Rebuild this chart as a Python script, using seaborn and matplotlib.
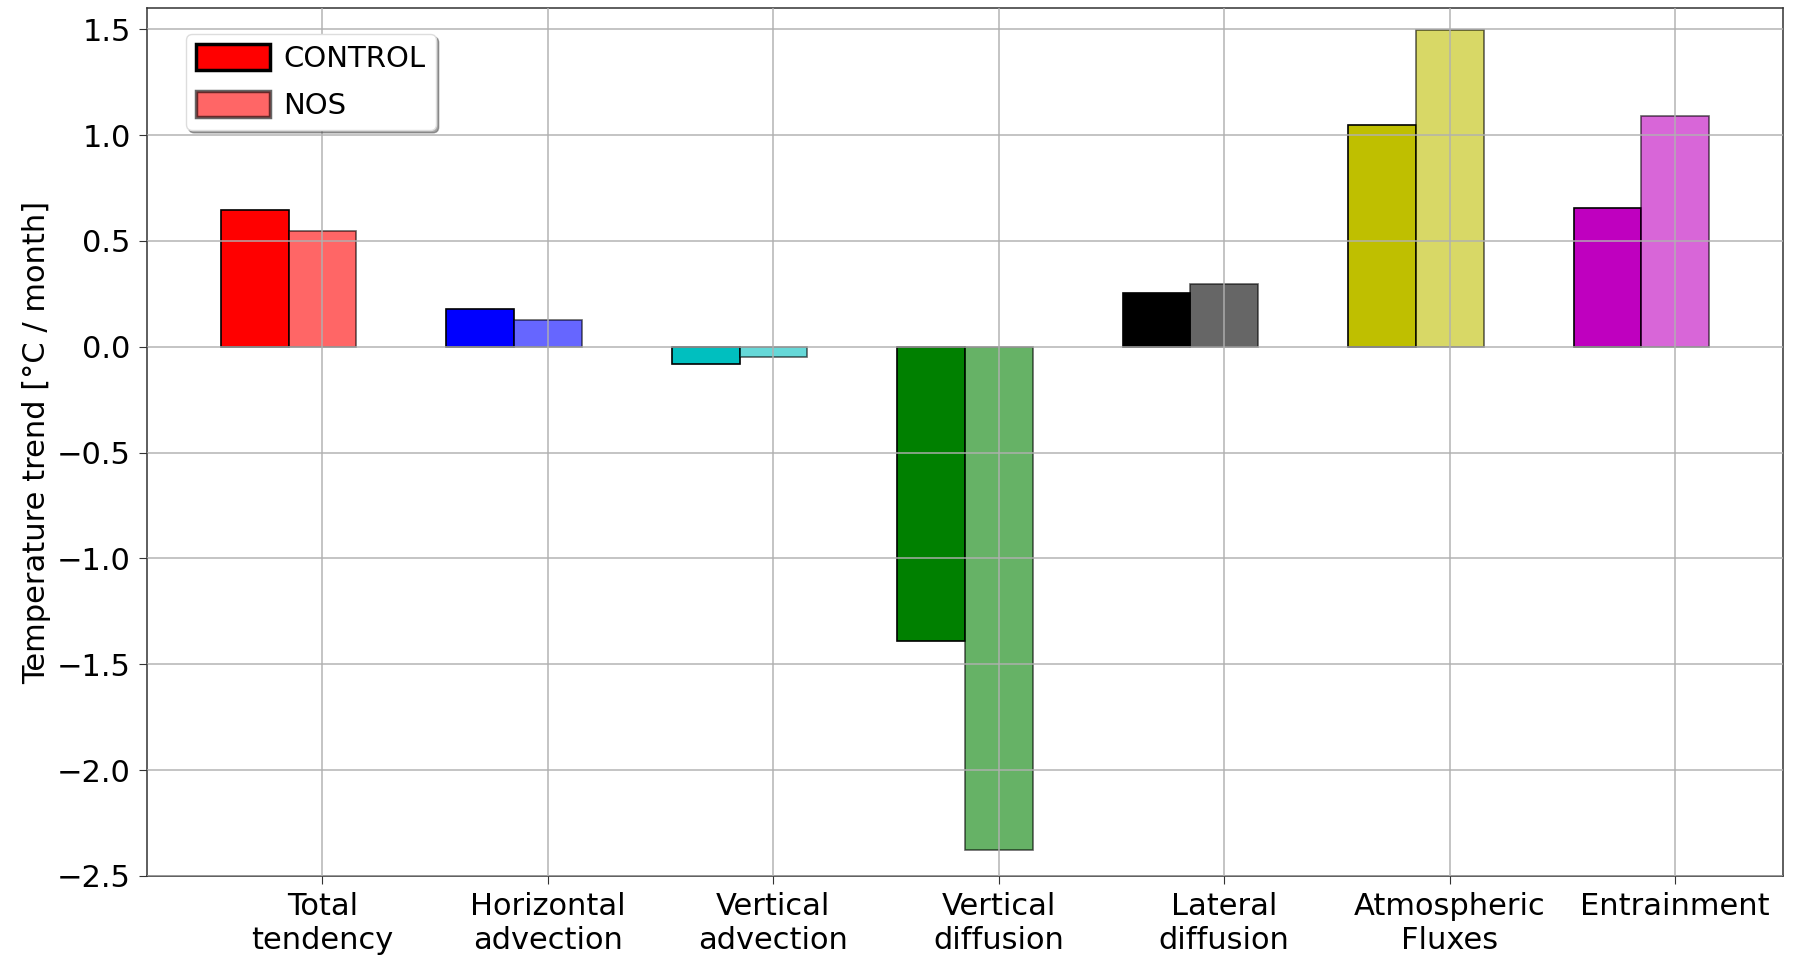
import numpy as np
import pandas as pd
import matplotlib
matplotlib.use("Agg")
import matplotlib.pyplot as plt
from matplotlib.patches import Patch
import seaborn as sns

# Mixed-layer heat budget terms
categories = ["Total\ntendency", "Horizontal\nadvection", "Vertical\nadvection",
              "Vertical\ndiffusion", "Lateral\ndiffusion", "Atmospheric\nFluxes",
              "Entrainment"]
control = [0.646, 0.178, -0.08, -1.389, 0.252, 1.049, 0.655]
nos = [0.549, 0.124, -0.047, -2.378, 0.298, 1.497, 1.088]
term_colors = ["red", "blue", "c", "green", "black", "y", "m"]
series_names = ["CONTROL", "NOS"]
ytick_values = [-2.5, -2.0, -1.5, -1.0, -0.5, 0.0, 0.5, 1.0, 1.5]

sns.set_style("ticks")
plt.rcParams.update({
    "font.family": ["DejaVu Sans"],
    "font.size": 22,
    "text.color": "black",
    "axes.labelcolor": "black",
    "axes.edgecolor": "#333333",
    "axes.linewidth": 1.1,
    "xtick.major.size": 5.5,
    "ytick.major.size": 5.5,
    "xtick.major.pad": 6,
    "ytick.major.pad": 6,
    "xtick.color": "#333333",
    "ytick.color": "#333333",
    "xtick.labelcolor": "black",
    "ytick.labelcolor": "black",
    "xtick.labelsize": 22,
    "ytick.labelsize": 22,
})

fig = plt.figure(figsize=(17.96, 9.56), dpi=100)
ax = fig.add_axes([0.0816, 0.0837, 0.9114, 0.9079])

idx = np.arange(len(categories))
palette = dict(zip(categories, term_colors))

df_control = pd.DataFrame({"pos": idx - 0.3, "value": control, "term": categories})
df_nos = pd.DataFrame({"pos": idx.astype(float), "value": nos, "term": categories})

sns.barplot(data=df_control, x="pos", y="value", hue="term", palette=palette,
            native_scale=True, dodge=False, width=0.3, errorbar=None,
            saturation=1, edgecolor="black", linewidth=1.2, legend=False, ax=ax)
sns.barplot(data=df_nos, x="pos", y="value", hue="term", palette=palette,
            native_scale=True, dodge=False, width=0.3, errorbar=None,
            saturation=1, edgecolor="black", linewidth=1.2, alpha=0.6,
            legend=False, ax=ax)

ax.set_xlim(-0.78, 6.48)
ax.set_ylim(-2.5, 1.6)
ax.set_xticks(idx)
ax.set_xticklabels(categories)
ax.set_yticks(ytick_values)
ax.set_yticklabels([f"{v:.1f}".replace("-", "\u2212") for v in ytick_values])
ax.set_xlabel("")
ax.set_ylabel("Temperature trend [°C / month]", fontsize=22)

ax.set_axisbelow(False)
ax.grid(True, color="#b0b0b0", alpha=0.8, linewidth=1.3)

handles = [
    Patch(facecolor="red", edgecolor="black", linewidth=2.5),
    Patch(facecolor="red", edgecolor="black", linewidth=2.5, alpha=0.6),
]
leg = ax.legend(handles, series_names, loc="upper left",
                bbox_to_anchor=(0.024, 0.97), borderaxespad=0,
                handlelength=2.55, handleheight=1.0, fontsize=21,
                borderpad=0.35, handletextpad=0.45,
                shadow=True, fancybox=True, framealpha=1.0,
                labelspacing=0.6)
leg.get_frame().set_edgecolor("#dddddd")

fig.savefig("out.png", dpi=100)
